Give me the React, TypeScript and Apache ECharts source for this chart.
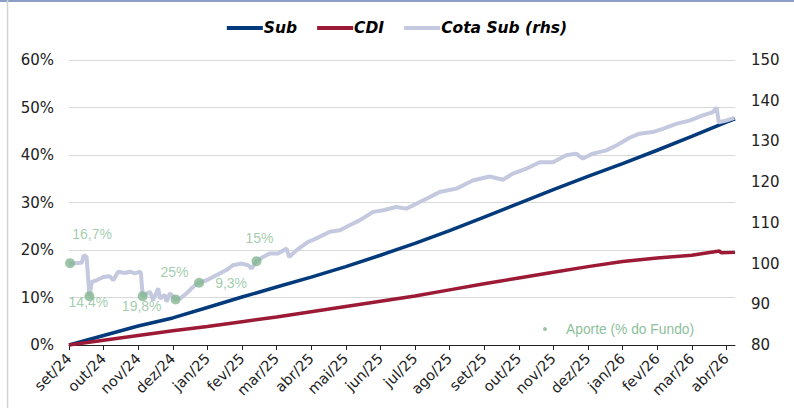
import React, { useEffect, useRef } from 'react';
import * as echarts from 'echarts';

const months = ['set/24','out/24','nov/24','dez/24','jan/25','fev/25','mar/25','abr/25','mai/25','jun/25','jul/25','ago/25','set/25','out/25','nov/25','dez/25','jan/26','fev/26','mar/26','abr/26'];

const subMonths = [0,1,2,3,4,5,6,7,8,9,10,11,12,13,14,15,16,17,18,19,19.25];
const subValues = [0,2.0,4.0,5.7,7.9,10.1,12.2,14.3,16.5,18.9,21.4,24.1,26.9,29.8,32.7,35.5,38.2,41.0,43.9,46.9,47.6];

const cdiMonths = [0,1,2,3,4,5,6,7,8,9,10,11,12,13,14,15,16,17,18,18.8,18.85,19.25];
const cdiValues = [0,1.0,2.0,3.0,3.9,4.9,5.9,7.0,8.1,9.2,10.3,11.6,12.9,14.1,15.3,16.5,17.6,18.3,18.9,19.8,19.4,19.5];

const cotaMonths = [0,0.37,0.43,0.51,0.59,0.66,0.80,0.99,1.18,1.28,1.42,1.62,1.76,1.91,2.05,2.08,2.13,2.34,2.43,2.58,2.63,2.77,2.82,2.92,3.08,3.21,3.40,3.59,3.75,3.98,4.27,4.55,4.74,4.99,5.18,5.28,5.42,5.61,5.80,6.04,6.29,6.36,6.58,6.91,7.15,7.54,7.83,8.11,8.40,8.79,9.08,9.46,9.75,10.04,10.42,10.71,11.20,11.67,12.16,12.54,12.83,13.22,13.60,13.99,14.37,14.66,14.85,15.14,15.53,15.82,16.20,16.49,16.87,17.16,17.55,17.93,18.32,18.61,18.72,18.78,18.99,19.23];
const cotaValues = [100.0,100.2,102.1,101.6,92.0,95.5,95.9,96.7,96.9,95.9,98.0,97.7,98.0,97.6,98.0,97.6,92.0,93.1,91.0,93.9,91.4,92.3,90.6,92.7,91.2,91.4,92.7,94.3,95.3,95.9,97.2,98.4,99.6,100.0,99.6,98.8,100.6,101.6,102.5,102.5,103.7,101.6,103.3,105.3,106.2,107.8,108.2,109.4,110.6,112.7,113.1,113.9,113.5,114.7,116.3,117.6,118.4,120.4,121.4,120.6,122.1,123.3,124.9,124.9,126.6,127.0,125.8,127.0,127.8,129.0,130.9,131.9,132.3,133.1,134.3,135.1,136.4,137.2,138.3,134.7,135.1,135.8];

const aporteMonths = [0.03,0.59,2.13,3.08,3.76,5.42];
const aporteValues = [100.1,92.0,92.0,91.2,95.3,100.6];
const aporteLabels = ['16,7%','14,4%','19,8%','25%','9,3%','15%'];

const leftTicks = [0,10,20,30,40,50,60];
const rightTicks = [80,90,100,110,120,130,140,150];

const labelOffsets = [[22,-29],[-1,6],[-1,10],[-1,-27],[32,0],[3,-23]];

const zip = (a: number[], b: number[]) => a.map((x, i) => [x, b[i]]);

export default function App() {
  const ref = useRef<HTMLDivElement>(null);
  useEffect(() => {
    if (!ref.current) return;
    const chart = echarts.init(ref.current, undefined, { renderer: 'svg' });
    const axisFont = { fontFamily: 'DejaVu Sans', fontSize: 15, color: '#222' };
    chart.setOption({
      animation: false,
      backgroundColor: '#fff',
      graphic: [
        { type: 'rect', shape: { x: 0, y: 0, width: 794, height: 2 }, style: { fill: '#8c9dc6' }, silent: true },
        { type: 'line', shape: { x1: 7.5, y1: 0, x2: 7.5, y2: 408 }, style: { stroke: '#d4d4d4', lineWidth: 1.5 }, silent: true },
      ],
      legend: [
        {
          data: ['Sub', 'CDI', 'Cota Sub (rhs)'],
          top: 15,
          left: 'center',
          icon: 'rect',
          itemWidth: 36,
          itemHeight: 4,
          itemGap: 20,
          textStyle: { fontFamily: 'DejaVu Sans', fontSize: 15.5, fontWeight: 'bold', fontStyle: 'italic', color: '#000', padding: [0, 0, 0, -4] },
        },
        {
          data: ['Aporte (% do Fundo)'],
          left: 538,
          top: 317,
          icon: 'circle',
          itemWidth: 32,
          itemHeight: 4,
          textStyle: { fontFamily: 'Liberation Sans', fontSize: 13.8, color: '#8dbf9b' },
        },
      ],
      grid: { left: 69, right: 59, top: 60, bottom: 63 },
      xAxis: {
        type: 'value',
        min: 0,
        max: 19.25,
        interval: 1,
        splitLine: { show: false },
        axisLine: { show: true, lineStyle: { color: '#222', width: 1 } },
        axisTick: { show: true, length: 5, lineStyle: { color: '#222' }, customValues: months.map((_, i) => i) },
        axisLabel: {
          ...axisFont,
          fontSize: 14.5,
          rotate: 45,
          margin: 11,
          customValues: months.map((_, i) => i),
          formatter: (v: number) => (Number.isInteger(v) && months[v]) ? months[v] : '',
        },
      },
      yAxis: [
        {
          type: 'value',
          min: leftTicks[0],
          max: leftTicks[leftTicks.length - 1],
          interval: 10,
          axisLine: { show: false },
          axisTick: { show: false },
          splitLine: { show: true, lineStyle: { color: '#d9d9d9', width: 1 } },
          axisLabel: { ...axisFont, margin: 15, formatter: (v: number) => `${v}%` },
        },
        {
          type: 'value',
          min: rightTicks[0],
          max: rightTicks[rightTicks.length - 1],
          interval: 10,
          axisLine: { show: false },
          axisTick: { show: false },
          splitLine: { show: false },
          axisLabel: { ...axisFont, margin: 16 },
        },
      ],
      series: [
        {
          name: 'Sub', type: 'line', yAxisIndex: 0, showSymbol: false, symbol: 'none',
          data: zip(subMonths, subValues),
          lineStyle: { color: '#023a7c', width: 3.5 }, itemStyle: { color: '#023a7c' }, z: 2,
        },
        {
          name: 'CDI', type: 'line', yAxisIndex: 0, showSymbol: false, symbol: 'none',
          data: zip(cdiMonths, cdiValues),
          lineStyle: { color: '#9c1a36', width: 3.5 }, itemStyle: { color: '#9c1a36' }, z: 3,
        },
        {
          name: 'Cota Sub (rhs)', type: 'line', yAxisIndex: 1, showSymbol: false, symbol: 'none',
          data: zip(cotaMonths, cotaValues),
          lineStyle: { color: '#c4c9df', width: 4 }, itemStyle: { color: '#c4c9df' }, z: 4,
        },
        {
          name: 'Aporte (% do Fundo)', type: 'scatter', yAxisIndex: 1, symbolSize: 10, z: 5,
          itemStyle: { color: '#84b792' },
          data: aporteMonths.map((m, i) => ({
            value: [m, aporteValues[i]],
            label: {
              show: true,
              formatter: aporteLabels[i],
              position: 'inside',
              offset: labelOffsets[i],
              fontFamily: 'Liberation Sans',
              fontSize: 14,
              color: '#8cbf9a',
            },
          })),
        },
      ],
    });
    return () => chart.dispose();
  }, []);
  return <div ref={ref} style={{ position: 'absolute', left: 0, top: 0, width: 794, height: 408 }} />;
}
